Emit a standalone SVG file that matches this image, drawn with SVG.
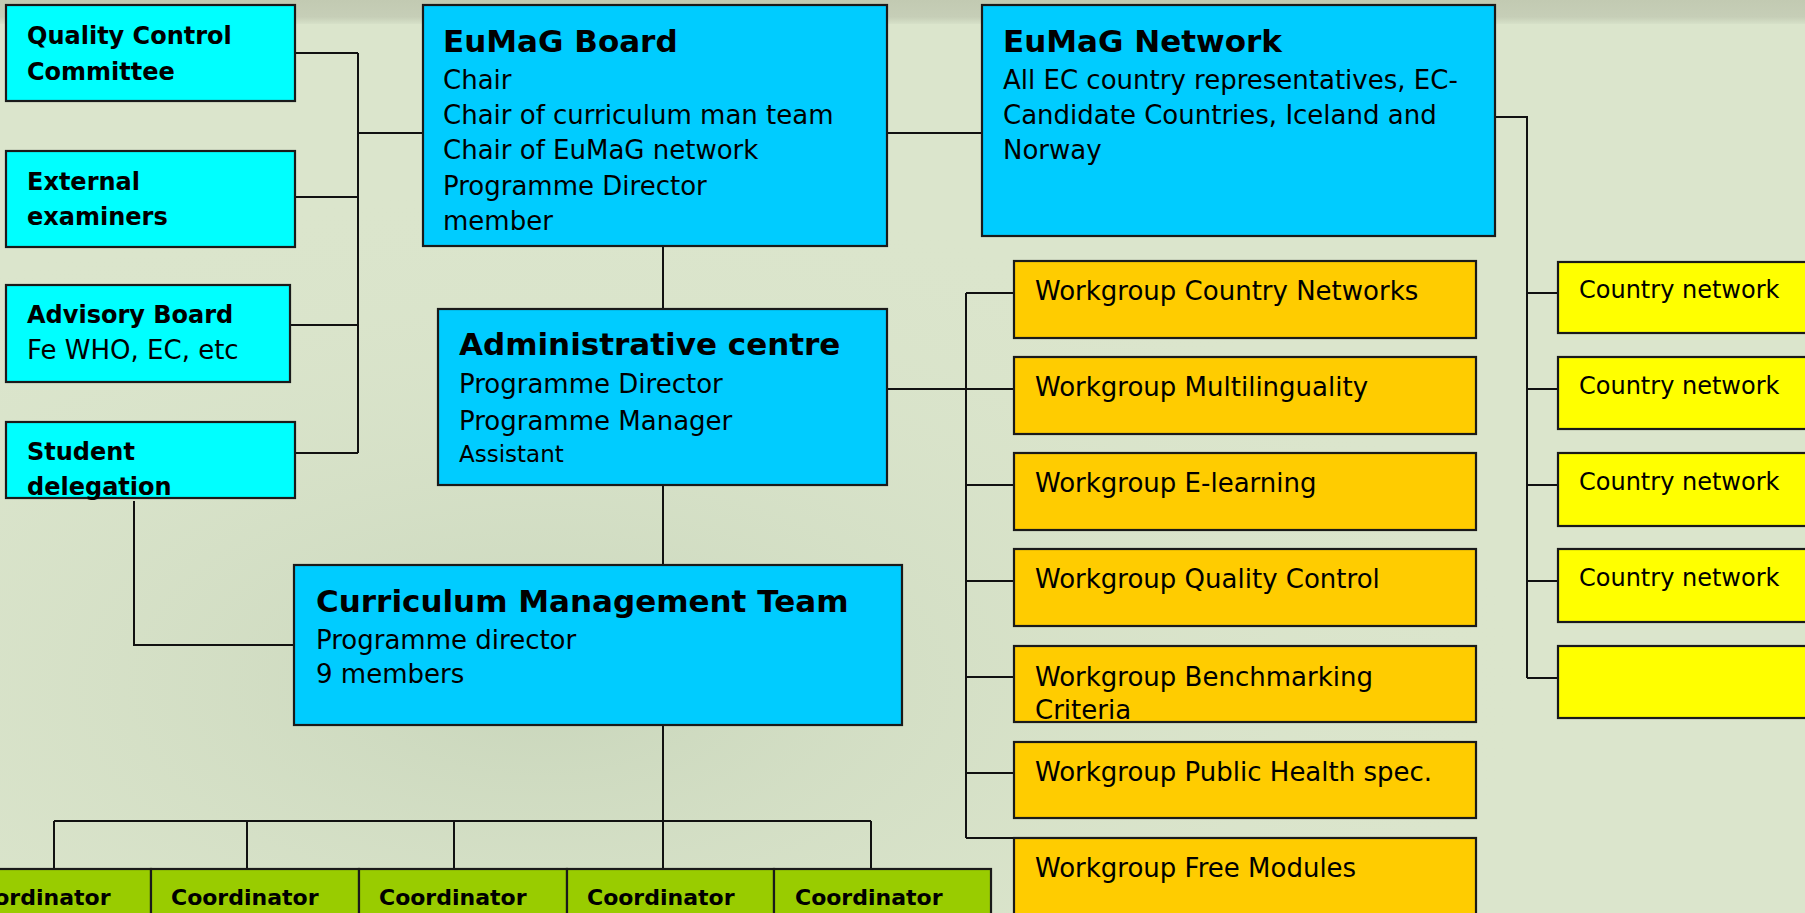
<svg xmlns="http://www.w3.org/2000/svg" width="1805" height="913" viewBox="0 0 1805 913">
<defs>
<linearGradient id="top" x1="0" y1="0" x2="0" y2="1">
<stop offset="0" stop-color="#c2cab2"/>
<stop offset="0.7" stop-color="#c6ceb7"/>
<stop offset="1" stop-color="#d6e0c8"/>
</linearGradient>
<radialGradient id="shade" cx="0.3" cy="0.75" r="0.55">
<stop offset="0" stop-color="#c9d6bb"/>
<stop offset="1" stop-color="#dbe5cc" stop-opacity="0"/>
</radialGradient>
<style>
.box{stroke:#1a1a1a;stroke-width:2.2}
.cyan{fill:#00ffff}
.blue{fill:#00ccff}
.orange{fill:#ffcc00}
.yellow{fill:#ffff00}
.green{fill:#99cc00}
text{font-family:"DejaVu Sans","Liberation Sans",sans-serif;fill:#000}
.t{font-size:31px;font-weight:bold}
.b{font-size:26px}
.cb{font-size:24px;font-weight:bold}
.wg{font-size:26px}
.cn{font-size:24px}
.co{font-size:22px;font-weight:bold}
.sm{font-size:23px}
#connectors path{fill:none;stroke:#111;stroke-width:2}
</style>
</defs>
<rect x="0" y="0" width="1805" height="913" fill="#dbe5cc"/>
<rect x="0" y="0" width="1805" height="913" fill="url(#shade)"/>
<rect x="0" y="0" width="1805" height="24" fill="url(#top)"/>

<g id="connectors">
<path d="M295 53H358M295 197H358M290 325H358M295 453H358M358 53V453M358 133H423"/>
<path d="M887 133H982"/>
<path d="M663 246V309M663 485V565M663 725V821"/>
<path d="M134 501V645H294"/>
<path d="M54 821H871M54 821V869M247 821V869M454 821V869M663 821V869M871 821V869"/>
<path d="M887 389H966M966 293V838M966 293H1014M966 389H1014M966 485H1014M966 581H1014M966 677H1014M966 773H1014M966 838H1014"/>
<path d="M1495 117H1527V678M1527 293H1558M1527 389H1558M1527 485H1558M1527 581H1558M1527 678H1558"/>
</g>

<g id="quality-control-committee">
<rect class="box cyan" x="6" y="5" width="289" height="96"/>
<text class="cb" x="27" y="44">Quality Control</text>
<text class="cb" x="27" y="80">Committee</text>
</g>
<g id="external-examiners">
<rect class="box cyan" x="6" y="151" width="289" height="96"/>
<text class="cb" x="27" y="190">External</text>
<text class="cb" x="27" y="225">examiners</text>
</g>
<g id="advisory-board">
<rect class="box cyan" x="6" y="285" width="284" height="97"/>
<text class="cb" x="27" y="323">Advisory Board</text>
<text class="b" x="27" y="359">Fe WHO, EC, etc</text>
</g>
<g id="student-delegation">
<rect class="box cyan" x="6" y="422" width="289" height="76"/>
<text class="cb" x="27" y="460">Student</text>
<text class="cb" x="27" y="495">delegation</text>
</g>

<g id="eumag-board">
<rect class="box blue" x="423" y="5" width="464" height="241"/>
<text class="t" x="443" y="52">EuMaG Board</text>
<text class="b" x="443" y="89">Chair</text>
<text class="b" x="443" y="124">Chair of curriculum man team</text>
<text class="b" x="443" y="159">Chair of EuMaG network</text>
<text class="b" x="443" y="195">Programme Director</text>
<text class="b" x="443" y="230">member</text>
</g>

<g id="eumag-network">
<rect class="box blue" x="982" y="5" width="513" height="231"/>
<text class="t" x="1003" y="52">EuMaG Network</text>
<text class="b" x="1003" y="89">All EC country representatives, EC-</text>
<text class="b" x="1003" y="124">Candidate Countries, Iceland and</text>
<text class="b" x="1003" y="159">Norway</text>
</g>

<g id="administrative-centre">
<rect class="box blue" x="438" y="309" width="449" height="176"/>
<text class="t" x="459" y="355">Administrative centre</text>
<text class="b" x="459" y="393">Programme Director</text>
<text class="b" x="459" y="430">Programme Manager</text>
<text class="sm" x="459" y="462">Assistant</text>
</g>

<g id="curriculum-management-team">
<rect class="box blue" x="294" y="565" width="608" height="160"/>
<text class="t" x="316" y="612">Curriculum Management Team</text>
<text class="b" x="316" y="649">Programme director</text>
<text class="b" x="316" y="683">9 members</text>
</g>

<g id="wg-country-networks">
<rect class="box orange" x="1014" y="261" width="462" height="77"/>
<text class="wg" x="1035" y="300">Workgroup Country Networks</text>
</g>
<g id="wg-multilinguality">
<rect class="box orange" x="1014" y="357" width="462" height="77"/>
<text class="wg" x="1035" y="396">Workgroup Multilinguality</text>
</g>
<g id="wg-e-learning">
<rect class="box orange" x="1014" y="453" width="462" height="77"/>
<text class="wg" x="1035" y="492">Workgroup E-learning</text>
</g>
<g id="wg-quality-control">
<rect class="box orange" x="1014" y="549" width="462" height="77"/>
<text class="wg" x="1035" y="588">Workgroup Quality Control</text>
</g>
<g id="wg-benchmarking">
<rect class="box orange" x="1014" y="646" width="462" height="76"/>
<text class="wg" x="1035" y="686">Workgroup Benchmarking</text>
<text class="wg" x="1035" y="719">Criteria</text>
</g>
<g id="wg-public-health">
<rect class="box orange" x="1014" y="742" width="462" height="76"/>
<text class="wg" x="1035" y="781">Workgroup Public Health spec.</text>
</g>
<g id="wg-free-modules">
<rect class="box orange" x="1014" y="838" width="462" height="90"/>
<text class="wg" x="1035" y="877">Workgroup Free Modules</text>
</g>

<g id="country-network-1">
<rect class="box yellow" x="1558" y="262" width="260" height="71"/>
<text class="cn" x="1579" y="298">Country network</text>
</g>
<g id="country-network-2">
<rect class="box yellow" x="1558" y="357" width="260" height="72"/>
<text class="cn" x="1579" y="394">Country network</text>
</g>
<g id="country-network-3">
<rect class="box yellow" x="1558" y="453" width="260" height="73"/>
<text class="cn" x="1579" y="490">Country network</text>
</g>
<g id="country-network-4">
<rect class="box yellow" x="1558" y="549" width="260" height="73"/>
<text class="cn" x="1579" y="586">Country network</text>
</g>
<g id="country-network-5">
<rect class="box yellow" x="1558" y="646" width="260" height="72"/>
</g>

<g id="coordinator-1">
<rect class="box green" x="-57" y="869" width="208" height="60"/>
<text class="co" x="-37" y="905">Coordinator</text>
</g>
<g id="coordinator-2">
<rect class="box green" x="151" y="869" width="208" height="60"/>
<text class="co" x="171" y="905">Coordinator</text>
</g>
<g id="coordinator-3">
<rect class="box green" x="359" y="869" width="208" height="60"/>
<text class="co" x="379" y="905">Coordinator</text>
</g>
<g id="coordinator-4">
<rect class="box green" x="567" y="869" width="207" height="60"/>
<text class="co" x="587" y="905">Coordinator</text>
</g>
<g id="coordinator-5">
<rect class="box green" x="774" y="869" width="217" height="60"/>
<text class="co" x="795" y="905">Coordinator</text>
</g>
</svg>
